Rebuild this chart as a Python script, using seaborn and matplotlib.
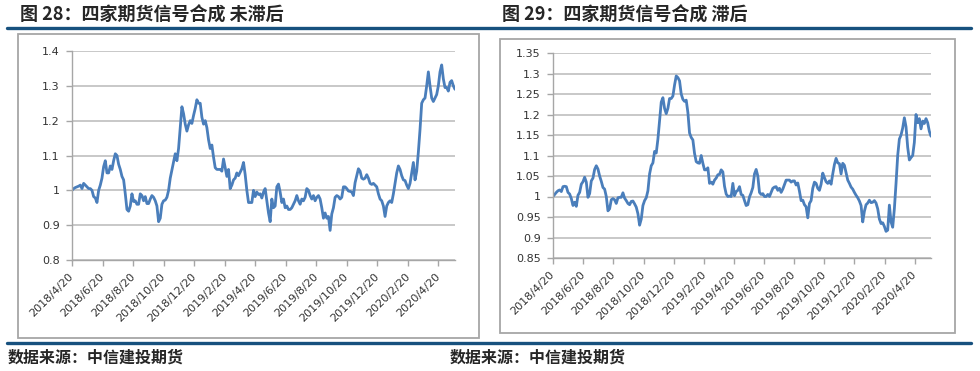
import pandas as pd
import matplotlib
matplotlib.use('Agg')
import matplotlib.pyplot as plt
from matplotlib.patches import Rectangle
from matplotlib.lines import Line2D
import seaborn as sns

# ---------------- data ----------------
start_date = '2018-04-20'
end_date = '2020-05-23'
tick_dates = ['2018-04-20', '2018-06-20', '2018-08-20', '2018-10-20', '2018-12-20',
              '2019-02-20', '2019-04-20', '2019-06-20', '2019-08-20', '2019-10-20',
              '2019-12-20', '2020-02-20', '2020-04-20']

title_left = '图 28：四家期货信号合成 未滞后'
title_right = '图 29：四家期货信号合成 滞后'
source_text = '数据来源：中信建投期货'

yticks_left = [0.8, 0.9, 1.0, 1.1, 1.2, 1.3, 1.4]
yticks_right = [0.85, 0.9, 0.95, 1.0, 1.05, 1.1, 1.15, 1.2, 1.25, 1.3, 1.35]

signal_unlagged = [
    1.000, 1.005, 1.008, 1.010, 1.012, 1.015, 1.005, 1.020, 1.015, 1.010,
    1.005, 1.005, 1.000, 0.982, 0.978, 0.965, 1.000, 1.015, 1.035, 1.068,
    1.085, 1.050, 1.050, 1.070, 1.060, 1.085, 1.105, 1.100, 1.075, 1.060,
    1.040, 1.030, 0.990, 0.945, 0.940, 0.955, 0.990, 0.968, 0.970, 0.960,
    0.960, 0.990, 0.985, 0.970, 0.982, 0.962, 0.962, 0.975, 0.985, 0.980,
    0.970, 0.955, 0.910, 0.920, 0.960, 0.970, 0.972, 0.980, 1.000, 1.035,
    1.058, 1.080, 1.105, 1.085, 1.120, 1.180, 1.240, 1.220, 1.190, 1.170,
    1.188, 1.200, 1.192, 1.215, 1.235, 1.260, 1.250, 1.250, 1.210, 1.190,
    1.200, 1.180, 1.145, 1.120, 1.130, 1.095, 1.065, 1.060, 1.060, 1.060,
    1.055, 1.090, 1.065, 1.040, 1.060, 1.005, 1.015, 1.030, 1.035, 1.050,
    1.042, 1.052, 1.062, 1.080, 1.045, 1.000, 0.965, 0.965, 0.965, 1.000,
    0.982, 0.995, 0.988, 0.990, 0.978, 0.995, 1.005, 0.970, 0.935, 0.910,
    0.975, 0.950, 0.955, 1.010, 1.018, 0.995, 0.965, 0.975, 0.950, 0.955,
    0.945, 0.945, 0.950, 0.960, 0.970, 0.985, 0.970, 0.960, 0.975, 0.970,
    0.980, 1.005, 1.000, 0.985, 0.975, 0.985, 0.970, 0.980, 0.985, 0.975,
    0.950, 0.920, 0.935, 0.920, 0.925, 0.885, 0.932, 0.950, 0.980, 0.985,
    0.982, 0.975, 0.980, 1.010, 1.010, 1.005, 0.998, 0.997, 0.995, 0.985,
    1.022, 1.042, 1.062, 1.055, 1.035, 1.032, 1.035, 1.045, 1.035, 1.020,
    1.017, 1.020, 1.015, 1.010, 0.990, 0.975, 0.970, 0.955, 0.925, 0.955,
    0.965, 0.970, 0.965, 0.990, 1.020, 1.050, 1.070, 1.060, 1.042, 1.030,
    1.028, 1.015, 1.005, 1.020, 1.050, 1.080, 1.030, 1.055, 1.110, 1.175,
    1.250, 1.260, 1.265, 1.300, 1.340, 1.300, 1.265, 1.255, 1.265, 1.275,
    1.300, 1.340, 1.360, 1.320, 1.295, 1.295, 1.285, 1.310, 1.315, 1.300,
    1.290,
]

signal_lagged = [
    1.000, 1.005, 1.010, 1.014, 1.016, 1.012, 1.024, 1.025, 1.024, 1.010,
    1.006, 0.995, 0.978, 0.986, 0.976, 1.003, 1.010, 1.030, 1.036, 1.047,
    1.035, 0.998, 1.007, 1.038, 1.045, 1.066, 1.075, 1.067, 1.050, 1.037,
    1.022, 1.018, 1.000, 0.965, 0.970, 0.992, 0.995, 0.992, 0.983, 0.997,
    0.998, 0.998, 1.009, 0.996, 0.990, 0.983, 0.980, 0.988, 0.989, 0.982,
    0.974, 0.958, 0.930, 0.945, 0.978, 0.990, 0.997, 1.014, 1.055, 1.075,
    1.082, 1.110, 1.106, 1.140, 1.185, 1.230, 1.241, 1.215, 1.202, 1.215,
    1.239, 1.239, 1.245, 1.272, 1.294, 1.290, 1.282, 1.250, 1.237, 1.232,
    1.235, 1.205, 1.155, 1.144, 1.138, 1.105, 1.085, 1.082, 1.081, 1.100,
    1.081, 1.065, 1.065, 1.070, 1.032, 1.035, 1.030, 1.040, 1.045, 1.053,
    1.054, 1.065, 1.060, 1.025, 1.006, 1.000, 1.001, 1.000, 1.032, 1.002,
    1.012, 1.015, 1.024, 1.005, 1.003, 0.990, 0.978, 0.980, 0.999, 1.009,
    1.022, 1.055, 1.066, 1.050, 1.010, 1.005, 1.007, 1.000, 1.000, 1.005,
    1.000, 1.010, 1.020, 1.023, 1.024, 1.015, 1.020, 1.010, 1.018, 1.029,
    1.040, 1.040, 1.040, 1.035, 1.038, 1.038, 1.028, 1.033, 1.013, 0.990,
    0.991, 0.980, 0.975, 0.948, 0.983, 0.990, 1.020, 1.035, 1.032, 1.020,
    1.015, 1.030, 1.057, 1.046, 1.036, 1.032, 1.038, 1.030, 1.055, 1.078,
    1.093, 1.082, 1.080, 1.055, 1.081, 1.076, 1.058, 1.040, 1.032, 1.023,
    1.018, 1.010, 1.003, 0.997, 0.989, 0.978, 0.938, 0.964, 0.980, 0.984,
    0.991, 0.985, 0.986, 0.990, 0.984, 0.970, 0.945, 0.934, 0.936, 0.927,
    0.915, 0.918, 0.979, 0.938, 0.925, 0.970, 1.032, 1.100, 1.140, 1.150,
    1.167, 1.192, 1.170, 1.120, 1.089, 1.095, 1.100, 1.132, 1.200, 1.180,
    1.190, 1.165, 1.184, 1.178, 1.190, 1.180, 1.159, 1.147,
]

# ---------------- style ----------------
sns.set_style('white')
plt.rcParams['font.family'] = ['DejaVu Sans']
cjk = ['Noto Sans CJK SC', 'DejaVu Sans']

W, H = 980, 371
fig = plt.figure(figsize=(W / 100, H / 100), dpi=100)
fig.patch.set_facecolor('white')


def fx(x):
    return x / W


def fy(y):
    return 1 - y / H


LINE_COLOR = '#4a7ebb'
GRID_COLOR = '#c4c4c4'
AXIS_COLOR = '#a6a6a6'
RULE_COLOR = '#17517e'


def tick_label(d):
    d = pd.Timestamp(d)
    return f'{d.year}/{d.month}/{d.day}'


def draw_panel(ax, values, yticks):
    dates = pd.date_range(start_date, end_date, periods=len(values))
    df = pd.DataFrame({'date': dates, 'value': values})
    sns.lineplot(data=df, x='date', y='value', ax=ax, color=LINE_COLOR,
                 linewidth=2.0)
    ax.set_xlim(pd.Timestamp(start_date), pd.Timestamp(end_date))
    ax.set_ylim(yticks[0], yticks[-1])
    ax.set_xlabel('')
    ax.set_ylabel('')
    ax.set_yticks(yticks)
    ax.set_yticklabels([f'{v:g}' for v in yticks])
    ax.set_xticks(pd.to_datetime(tick_dates))
    ax.set_xticklabels([tick_label(d) for d in tick_dates], rotation=45,
                       ha='right', va='center', rotation_mode='anchor')
    ax.yaxis.grid(True, color=GRID_COLOR, linewidth=1.3)
    ax.xaxis.grid(False)
    ax.set_axisbelow(True)
    for s in ['top', 'right']:
        ax.spines[s].set_visible(False)
    for s in ['left', 'bottom']:
        ax.spines[s].set_color(AXIS_COLOR)
        ax.spines[s].set_linewidth(1.0)
    ax.tick_params(axis='both', which='major', direction='out', length=4,
                   width=1, color=AXIS_COLOR, labelsize=8, labelcolor='#333333',
                   bottom=True, left=True)
    ax.tick_params(axis='x', pad=7)
    ax.tick_params(axis='y', pad=5)
    ax.set_facecolor('white')


ax1 = fig.add_axes([fx(72), fy(260), (455 - 72) / W, (260 - 51) / H])
ax2 = fig.add_axes([fx(553), fy(258), (931 - 553) / W, (258 - 53) / H])
draw_panel(ax1, signal_unlagged, yticks_left)
draw_panel(ax2, signal_lagged, yticks_right)

# frames around each chart
fig.add_artist(Rectangle((fx(18), fy(338)), (479 - 18) / W, (338 - 34) / H,
                         fill=False, ec=AXIS_COLOR, lw=1.3,
                         transform=fig.transFigure))
fig.add_artist(Rectangle((fx(500), fy(333)), (955 - 500) / W, (333 - 39) / H,
                         fill=False, ec=AXIS_COLOR, lw=1.3,
                         transform=fig.transFigure))

# rules
for yy in (28, 343):
    fig.add_artist(Line2D([fx(7), fx(971)], [fy(yy), fy(yy)], color=RULE_COLOR,
                          lw=2.4, transform=fig.transFigure))

# titles and sources
fig.text(fx(20), fy(15), title_left, fontsize=13, fontweight='bold',
         family=cjk, ha='left', va='center')
fig.text(fx(502), fy(15), title_right, fontsize=13, fontweight='bold',
         family=cjk, ha='left', va='center')
fig.text(fx(8), fy(358), source_text, fontsize=11.5, fontweight='bold',
         family=cjk, ha='left', va='center')
fig.text(fx(450), fy(358), source_text, fontsize=11.5, fontweight='bold',
         family=cjk, ha='left', va='center')

fig.savefig('out.png', dpi=100, facecolor='white')
